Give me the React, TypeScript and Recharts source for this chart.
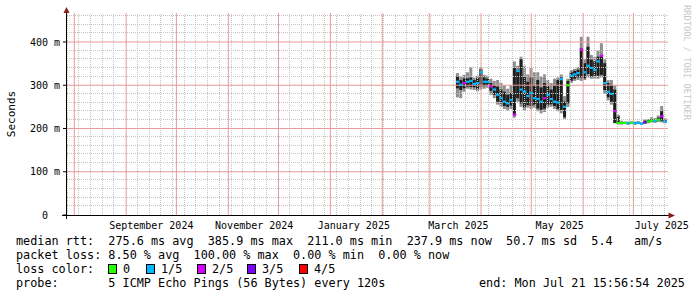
import React from "react";
import {
  ComposedChart,
  Bar,
  Scatter,
  XAxis,
  YAxis,
  ReferenceLine,
} from "recharts";

// x values are days since 1 Aug 2024, y values are milliseconds
const DAYS = [
  229, 231, 233, 235, 237, 239, 241, 243, 245, 247, 249, 251, 253, 255, 257,
  259, 261, 263, 265, 267, 269, 271, 273, 275, 277, 279, 281, 283, 285, 287,
  289, 291, 293, 295, 297, 299, 301, 303, 305, 307, 309, 311, 313, 315, 317,
  319, 321, 323, 325, 327, 329, 331, 333, 335, 337, 339, 341, 343, 345, 347,
  349, 351, 353,
];
const SMOKE_LO = [
  272, 270, 285, 292, 290, 289, 286, 290, 292, 294, 278, 270, 255, 250, 245,
  242, 245, 225, 262, 250, 242, 248, 245, 248, 240, 235, 238, 248, 250, 245,
  240, 235, 222, 250, 305, 310, 312, 310, 312, 318, 315, 315, 315, 318, 280,
  265, 255, 212, 209, 209, 210, 209, 210, 209, 210, 208, 211, 212, 214, 213,
  215, 214, 212,
];
const DARK_LO = [
  293, 289, 293, 297, 296, 295, 292, 297, 298, 300, 287, 278, 262, 258, 252,
  250, 253, 231, 270, 258, 249, 254, 252, 255, 246, 243, 246, 254, 256, 252,
  245, 243, 226, 258, 310, 315, 318, 318, 316, 326, 320, 322, 322, 324, 289,
  272, 262, 213, 211, 211, 211, 210, 211, 210, 211, 209, 212, 214, 215, 215,
  217, 218, 214,
];
const DARK_HI = [
  320, 312, 316, 316, 318, 312, 316, 337, 318, 315, 305, 300, 297, 290, 285,
  278, 282, 340, 336, 360, 320, 308, 318, 300, 312, 295, 305, 298, 290, 300,
  312, 318, 262, 310, 330, 333, 336, 385, 351, 389, 359, 355, 366, 370, 351,
  305, 301, 290, 228, 215, 214, 214, 215, 214, 215, 213, 218, 219, 222, 220,
  225, 240, 220,
];
const SMOKE_HI = [
  328, 320, 324, 330, 342, 318, 322, 342, 324, 322, 315, 310, 312, 305, 300,
  292, 300, 355, 345, 366, 345, 325, 340, 330, 330, 320, 325, 312, 305, 315,
  318, 325, 275, 315, 335, 338, 342, 412, 360, 412, 370, 365, 380, 397, 360,
  312, 312, 300, 232, 218, 216, 216, 217, 216, 217, 215, 221, 222, 226, 224,
  230, 252, 224,
];
const MEDIAN = [
  308, 301, 305, 308, 310, 303, 305, 330, 308, 308, 297, 290, 278, 270, 262,
  258, 266, 232, 333, 290, 285, 275, 282, 270, 268, 262, 270, 278, 268, 262,
  260, 314, 250, 300, 322, 325, 328, 382, 330, 345, 340, 335, 355, 368, 305,
  285, 280, 240, 213, 213, 213, 212, 213, 212, 213, 211, 214, 216, 218, 217,
  220, 228, 216,
];
// lost pings out of 5
const LOSS = [
  1, 1, 2, 1, 1, 1, 1, 1, 1, 1, 2, 1, 1, 1, 1, 1, 1, 2, 1, 1, 1, 1, 1, 1, 1,
  1, 2, 1, 1, 1, 1, 1, 1, 0, 1, 1, 1, 2, 1, 1, 1, 1, 1, 2, 1, 1, 1, 2, 0, 0,
  0, 1, 0, 1, 1, 1, 3, 0, 0, 1, 0, 2, 1,
];

const LOSS_COLORS = ["#26ff00", "#00b8ff", "#d400ff", "#7e00ff", "#ff0000"];
const LOSS_LABELS = ["0", "1/5", "2/5", "3/5", "4/5"];

const MONTH_STARTS = [0, 31, 61, 92, 122, 153, 184, 212, 243, 273, 304, 334];
const SUNDAYS = [
  -4, 3, 10, 17, 24, 38, 45, 52, 59, 66, 73, 80, 87, 94, 101, 108, 115,
  129, 136, 143, 150, 157, 164, 171, 178, 185, 192, 199, 206, 213, 220,
  227, 234, 241, 248, 255, 262, 269, 276, 283, 290, 297, 311, 318, 325,
  332, 339, 346, 353,
];
const LABEL_DAYS = [46, 107.5, 167, 229.5, 290, 351];
const MONTH_LABELS = [
  "September 2024",
  "November 2024",
  "January 2025",
  "March 2025",
  "May 2025",
  "July 2025",
];
const Y_TICKS = [0, 100, 200, 300, 400];
const Y_MAJOR = [100, 200, 300, 400];
const Y_MINOR = [20, 40, 60, 80, 120, 140, 160, 180, 220, 240, 260, 280, 320, 340, 360, 380, 420, 440, 460];

const X_MIN = -4.36;
const X_MAX = 354.7;
const Y_MAX = 467;

const MONO = "'DejaVu Sans Mono', monospace";
const MINOR = "#c4c4c4";
const MAJOR = "#e99a9a";
const ARROW = "#8b1e1e";

const rows = DAYS.map((d, i) => ({
  d,
  smoke: [SMOKE_LO[i], SMOKE_HI[i]],
  dark: [DARK_LO[i], DARK_HI[i]],
  med: MEDIAN[i],
  loss: LOSS[i],
}));

// keep 1px dotted grid lines on whole pixels
const crisp = (p: any) => {
  const x1 = Number(p.x1);
  const x2 = Number(p.x2);
  const y1 = Number(p.y1);
  const y2 = Number(p.y2);
  const vertical = Math.abs(x1 - x2) < 0.5;
  const cx = Math.round(x1) - 0.5;
  const cy = Math.round(y1) - 0.5;
  return (
    <line
      x1={vertical ? cx : x1}
      x2={vertical ? cx : x2}
      y1={vertical ? y1 : cy}
      y2={vertical ? y2 : cy}
      stroke={p.stroke}
      strokeWidth={1}
      strokeDasharray={p.strokeDasharray}
      fill="none"
    />
  );
};

const MedianMark = (props: any) => {
  const { cx, cy, payload } = props;
  if (cx == null || cy == null) return null;
  return (
    <rect
      x={cx - 1.7}
      y={cy - 1.1}
      width={3.4}
      height={2.2}
      fill={LOSS_COLORS[payload.loss]}
    />
  );
};

const legendText = {
  fontFamily: MONO,
  fontSize: 11.8,
  fill: "#000",
  whiteSpace: "pre" as const,
};

export default function App() {
  return (
    <div
      style={{
        position: "absolute",
        left: 0,
        top: 0,
        width: 697,
        height: 297,
        background: "#fff",
      }}
    >
      <ComposedChart
        width={697}
        height={297}
        data={rows}
        margin={{ top: 13, right: 29, bottom: 52, left: 0 }}
      >
        <XAxis
          xAxisId={0}
          type="number"
          dataKey="d"
          domain={[X_MIN, X_MAX]}
          allowDataOverflow
          ticks={LABEL_DAYS}
          interval={0}
          tickFormatter={(v: number) => MONTH_LABELS[LABEL_DAYS.indexOf(v)]}
          axisLine={false}
          tickLine={false}
          tickSize={5}
          tickMargin={2}
          height={30}
          tick={{ fontSize: 10, fill: "#000", fontFamily: MONO }}
        />
        <XAxis
          xAxisId={1}
          type="number"
          dataKey="d"
          domain={[X_MIN, X_MAX]}
          allowDataOverflow
          hide
        />
        <YAxis
          type="number"
          domain={[0, Y_MAX]}
          allowDataOverflow
          ticks={Y_TICKS}
          interval={0}
          width={67}
          axisLine={false}
          tickLine={{ stroke: "#000" }}
          tickSize={4}
          tickMargin={3}
          tickFormatter={(v: number) => (v === 0 ? "0\u00a0\u00a0" : `${v} m`)}
          tick={{ fontSize: 10, fill: "#000", fontFamily: MONO }}
        />

        {Y_MINOR.map((v) => (
          <ReferenceLine
            key={`hm${v}`}
            y={v}
            stroke={MINOR}
            strokeDasharray="1 1"
            shape={crisp}
          />
        ))}
        {SUNDAYS.map((d) => (
          <ReferenceLine
            key={`vm${d}`}
            x={d}
            stroke={MINOR}
            strokeDasharray="1 1"
            shape={crisp}
          />
        ))}
        {Y_MAJOR.map((v) => (
          <ReferenceLine key={`hM${v}`} y={v} stroke={MAJOR} />
        ))}
        {MONTH_STARTS.map((d) => (
          <ReferenceLine key={`vM${d}`} x={d} stroke={MAJOR} />
        ))}

        <Bar
          xAxisId={0}
          dataKey="smoke"
          fill="#8e8e8e"
          barSize={4}
          isAnimationActive={false}
        />
        <Bar
          xAxisId={1}
          dataKey="dark"
          fill="#1e1e1e"
          barSize={4}
          isAnimationActive={false}
        />
        <Scatter
          xAxisId={0}
          dataKey="med"
          shape={MedianMark}
          isAnimationActive={false}
        />
      </ComposedChart>

      <svg
        width={697}
        height={297}
        style={{ position: "absolute", left: 0, top: 0, pointerEvents: "none" }}
      >
        <line x1={66.5} y1={219} x2={66.5} y2={12} stroke="#000" />
        <polygon points="66.5,7 63.5,13 69.5,13" fill={ARROW} />
        <line x1={62} y1={215.5} x2={669} y2={215.5} stroke="#000" />
        <polygon points="675,215.5 668.5,212.5 668.5,218.5" fill={ARROW} />

        <text
          transform="translate(15,114) rotate(-90)"
          textAnchor="middle"
          fontFamily={MONO}
          fontSize={11}
          fill="#000"
        >
          Seconds
        </text>
        <text
          transform="translate(684,5) rotate(90)"
          fontFamily={MONO}
          fontSize={8.7}
          fill="#c8c8c8"
        >
          RRDTOOL / TOBI OETIKER
        </text>

        <text x={16} y={245} style={legendText}>
          {"median rtt:  275.6 ms avg  385.9 ms max  211.0 ms min  237.9 ms now  50.7 ms sd  5.4   am/s"}
        </text>
        <text x={16} y={259} style={legendText}>
          {"packet loss: 8.50 % avg  100.00 % max  0.00 % min  0.00 % now"}
        </text>
        <text x={16} y={273} style={legendText}>
          {"loss color:"}
        </text>
        {LOSS_LABELS.map((lab, i) => {
          const bx = [108, 146, 197, 247, 299][i];
          return (
            <g key={lab}>
              <rect
                x={bx + 0.5}
                y={264.5}
                width={8}
                height={9}
                fill={LOSS_COLORS[i]}
                stroke="#000"
              />
              <text x={bx + 15} y={273} style={legendText}>
                {lab}
              </text>
            </g>
          );
        })}
        <text x={16} y={287} style={legendText}>
          {"probe:       5 ICMP Echo Pings (56 Bytes) every 120s"}
        </text>
        <text x={479} y={287} style={legendText}>
          {"end: Mon Jul 21 15:56:54 2025"}
        </text>
      </svg>
    </div>
  );
}
